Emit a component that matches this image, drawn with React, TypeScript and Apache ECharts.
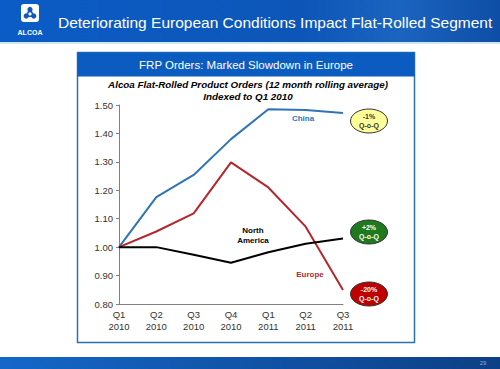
import React, { useEffect, useRef } from "react";
import * as echarts from "echarts";

const categories = ["Q1\n2010", "Q2\n2010", "Q3\n2010", "Q4\n2010", "Q1\n2011", "Q2\n2011", "Q3\n2011"];
const china = [1.0, 1.176, 1.254, 1.38, 1.485, 1.482, 1.472];
const europe = [1.0, 1.055, 1.119, 1.298, 1.21, 1.072, 0.849];
const northAmerica = [1.0, 1.0, 0.973, 0.945, 0.982, 1.012, 1.03];
const yTicks = { min: 0.8, max: 1.5, interval: 0.1 };

const FONT = "Liberation Sans, Arial, sans-serif";

export default function App() {
  const ref = useRef<HTMLDivElement>(null);
  useEffect(() => {
    const chart = echarts.init(ref.current!, null, { renderer: "svg" });
    const line = (name: string, data: number[], color: string) => ({
      name,
      type: "line",
      data,
      symbol: "none",
      lineStyle: { color, width: 2 },
      z: 3,
    });
    const bubble = (cx: number, cy: number, fill: string, txt: string, txtColor: string) => ({
      type: "group",
      children: [
        {
          type: "ellipse",
          shape: { cx, cy, rx: 18.5, ry: 12 },
          style: { fill, stroke: "#333", lineWidth: 1 },
        },
        {
          type: "text",
          x: cx,
          y: cy,
          style: {
            text: txt,
            fill: txtColor,
            font: `bold 7px ${FONT}`,
            textAlign: "center",
            textVerticalAlign: "middle",
            lineHeight: 9,
          },
        },
      ],
    });
    chart.setOption({
      animation: false,
      grid: { left: 119, right: 157, top: 105, bottom: 65 },
      xAxis: {
        type: "category",
        data: categories,
        boundaryGap: false,
        axisLine: { lineStyle: { color: "#808080", width: 1 } },
        axisTick: { show: false },
        axisLabel: { color: "#333", fontFamily: FONT, fontSize: 9.5, lineHeight: 12, margin: 4 },
      },
      yAxis: {
        type: "value",
        min: yTicks.min,
        max: yTicks.max,
        interval: yTicks.interval,
        axisLine: { show: true, lineStyle: { color: "#808080", width: 1 } },
        axisTick: { show: true, inside: false, length: 3, lineStyle: { color: "#808080" } },
        splitLine: { show: false },
        axisLabel: {
          color: "#333",
          fontFamily: FONT,
          fontSize: 9.5,
          margin: 6,
          formatter: (v: number) => v.toFixed(2),
        },
      },
      series: [
        line("China", china, "#2f74b5"),
        line("Europe", europe, "#b3272d"),
        line("North America", northAmerica, "#000000"),
      ],
      graphic: [
        // header band
        {
          type: "rect",
          shape: { x: 0, y: 0, width: 500, height: 42 },
          style: {
            fill: new echarts.graphic.LinearGradient(0, 0, 1, 0, [
              { offset: 0, color: "#0b5cc6" },
              { offset: 0.6, color: "#0d56b8" },
              { offset: 0.8, color: "#1b64bf" },
              { offset: 1, color: "#0e4ea6" },
            ]),
          },
          z: -10,
        },
        {
          type: "rect",
          shape: { x: 0, y: 42, width: 500, height: 2 },
          style: { fill: "#cfe6f5" },
          z: -10,
        },
        // logo
        {
          type: "rect",
          shape: { x: 21, y: 4, width: 18, height: 18, r: 3 },
          style: { fill: "#ffffff" },
        },
        {
          type: "polygon",
          shape: { points: [[30, 7], [25, 17], [35, 17]] },
          style: { fill: "#1358b8" },
        },
        { type: "circle", shape: { cx: 30, cy: 9.5, r: 2.6 }, style: { fill: "#1358b8" } },
        { type: "circle", shape: { cx: 26.2, cy: 16, r: 2.6 }, style: { fill: "#1358b8" } },
        { type: "circle", shape: { cx: 33.8, cy: 16, r: 2.6 }, style: { fill: "#1358b8" } },
        { type: "circle", shape: { cx: 30, cy: 14, r: 1.6 }, style: { fill: "#ffffff" } },
        {
          type: "text",
          x: 30,
          y: 32,
          style: {
            text: "ALCOA",
            fill: "#ffffff",
            font: `bold 7px ${FONT}`,
            textAlign: "center",
            textVerticalAlign: "middle",
          },
        },
        {
          type: "text",
          x: 58,
          y: 22,
          style: {
            text: "Deteriorating European Conditions Impact Flat-Rolled Segment",
            fill: "#ffffff",
            font: `15.5px ${FONT}`,
            textAlign: "left",
            textVerticalAlign: "middle",
          },
        },
        // footer band
        {
          type: "rect",
          shape: { x: 0, y: 357, width: 500, height: 12 },
          style: {
            fill: new echarts.graphic.LinearGradient(0, 0, 1, 0, [
              { offset: 0, color: "#1467c8" },
              { offset: 1, color: "#0d3f86" },
            ]),
          },
          z: -10,
        },
        {
          type: "text",
          x: 483,
          y: 363,
          style: {
            text: "29",
            fill: "#8aaad6",
            font: `6px ${FONT}`,
            textAlign: "center",
            textVerticalAlign: "middle",
          },
        },
        // panel
        {
          type: "rect",
          shape: { x: 77.5, y: 52.5, width: 337, height: 290 },
          style: { fill: "#ffffff", stroke: "#2d6fb0", lineWidth: 1.5 },
          z: -9,
        },
        {
          type: "rect",
          shape: { x: 77.5, y: 52.5, width: 337, height: 24 },
          style: { fill: "#0b5cc0" },
          z: -8,
        },
        {
          type: "text",
          x: 246,
          y: 65,
          style: {
            text: "FRP Orders: Marked Slowdown in Europe",
            fill: "#ffffff",
            font: `11.5px ${FONT}`,
            textAlign: "center",
            textVerticalAlign: "middle",
          },
        },
        {
          type: "text",
          x: 248,
          y: 84,
          style: {
            text: "Alcoa Flat-Rolled Product Orders (12 month rolling average)",
            fill: "#000000",
            font: `italic bold 9.8px ${FONT}`,
            textAlign: "center",
            textVerticalAlign: "middle",
          },
        },
        {
          type: "text",
          x: 248,
          y: 96,
          style: {
            text: "Indexed to Q1 2010",
            fill: "#000000",
            font: `italic bold 9.8px ${FONT}`,
            textAlign: "center",
            textVerticalAlign: "middle",
          },
        },
        // series labels
        {
          type: "text",
          x: 303,
          y: 118,
          style: { text: "China", fill: "#2f74b5", font: `bold 8px ${FONT}`, textAlign: "center", textVerticalAlign: "middle" },
        },
        {
          type: "text",
          x: 253,
          y: 235,
          style: {
            text: "North\nAmerica",
            fill: "#000000",
            font: `bold 8px ${FONT}`,
            textAlign: "center",
            textVerticalAlign: "middle",
            lineHeight: 10,
          },
        },
        {
          type: "text",
          x: 310,
          y: 274,
          style: { text: "Europe", fill: "#b3272d", font: `bold 8px ${FONT}`, textAlign: "center", textVerticalAlign: "middle" },
        },
        bubble(369, 121, "#ffff99", "-1%\nQ-o-Q", "#333333"),
        bubble(369, 232, "#1f7a1f", "+2%\nQ-o-Q", "#ffffff"),
        bubble(369, 294, "#c00000", "-20%\nQ-o-Q", "#ffffff"),
      ],
    });
    return () => chart.dispose();
  }, []);
  return (
    <div
      ref={ref}
      style={{ position: "absolute", left: 0, top: 0, width: 500, height: 369, background: "#ffffff" }}
    />
  );
}
